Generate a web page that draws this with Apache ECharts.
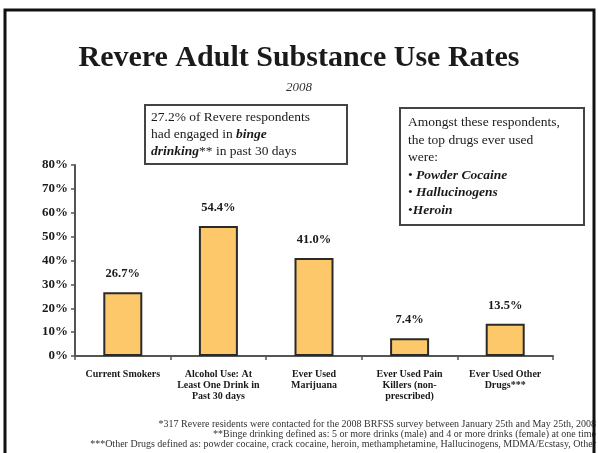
<!DOCTYPE html>
<html>
<head>
<meta charset="utf-8">
<script src="https://cdn.jsdelivr.net/npm/echarts@6/dist/echarts.min.js"></script>
<style>
html,body{margin:0;padding:0;background:#fff;}
#chart{width:598px;height:453px;}
</style>
</head>
<body>
<div id="chart"></div>
<script>
const categories = [
  "Current Smokers",
  "Alcohol Use: At\nLeast One Drink in\nPast 30 days",
  "Ever Used\nMarijuana",
  "Ever Used Pain\nKillers (non-\nprescribed)",
  "Ever Used Other\nDrugs***"
];
const values = [26.7, 54.4, 41.0, 7.4, 13.5];
const yTickValues = [0, 10, 20, 30, 40, 50, 60, 70, 80];
const titleText = "Revere Adult Substance Use Rates";
const subtitleText = "2008";
const footnotes = [
  "*317 Revere residents were contacted for the 2008 BRFSS survey between January 25th and May 25th, 2008",
  "**Binge drinking defined as: 5 or more drinks (male) and 4 or more drinks (female) at one time",
  "***Other Drugs defined as: powder cocaine, crack cocaine, heroin, methamphetamine, Hallucinogens, MDMA/Ecstasy, Other"
];

const SERIF = "'Liberation Serif', 'Times New Roman', serif";
const chart = echarts.init(document.getElementById('chart'), null, {renderer: 'canvas'});

const option = {
  backgroundColor: '#ffffff',
  animation: false,
  title: {
    text: titleText,
    subtext: subtitleText,
    left: 'center',
    top: 38,
    itemGap: 8,
    textStyle: {fontFamily: SERIF, fontWeight: 'bold', fontSize: 30, color: '#1a1a1a'},
    subtextStyle: {fontFamily: SERIF, fontStyle: 'italic', fontSize: 13, color: '#333'}
  },
  grid: {left: 75, right: 45, top: 165, bottom: 97, containLabel: false, outerBoundsMode: 'none'},
  xAxis: {
    type: 'category',
    data: categories,
    axisLine: {show: true, lineStyle: {color: '#555', width: 2}},
    axisTick: {show: true, length: 4, lineStyle: {color: '#555', width: 1.5}},
    axisLabel: {
      interval: 0, margin: 13,
      fontFamily: SERIF, fontWeight: 'bold', fontSize: 10, lineHeight: 11, color: '#1a1a1a'
    }
  },
  yAxis: {
    type: 'value',
    min: yTickValues[0],
    max: yTickValues[yTickValues.length - 1],
    interval: 10,
    splitLine: {show: false},
    axisLine: {show: true, lineStyle: {color: '#555', width: 2}},
    axisTick: {show: true, length: 4, lineStyle: {color: '#555', width: 1.5}},
    axisLabel: {
      margin: 7,
      formatter: v => v + '%',
      fontFamily: SERIF, fontWeight: 'bold', fontSize: 13, color: '#1a1a1a'
    }
  },
  series: [{
    type: 'bar',
    data: values,
    barWidth: 39,
    itemStyle: {color: '#FCC86A', borderColor: '#2a2a2a', borderWidth: 2},
    label: {
      show: true, position: 'top', distance: 12,
      formatter: p => p.value.toFixed(1) + '%',
      fontFamily: SERIF, fontWeight: 'bold', fontSize: 12.5, color: '#1a1a1a'
    }
  }],
  graphic: [
    {type: 'rect', shape: {x: 5, y: 10, width: 589, height: 470},
     style: {fill: null, stroke: '#111', lineWidth: 3}, silent: true, z: 100},
    {type: 'rect', shape: {x: 145, y: 105, width: 202, height: 59},
     style: {fill: '#fff', stroke: '#444', lineWidth: 2}, z: 10},
    {type: 'text', x: 151, y: 109, z: 11,
     style: {
       text: '27.2% of Revere respondents\nhad engaged in {bi|binge}\n{bi|drinking}** in past 30 days',
       fontFamily: SERIF, fontSize: 13.5, lineHeight: 17, fill: '#1a1a1a',
       rich: {bi: {fontFamily: SERIF, fontSize: 13.5, fontWeight: 'bold', fontStyle: 'italic', fill: '#1a1a1a', lineHeight: 17}}
     }},
    {type: 'rect', shape: {x: 400, y: 108, width: 184, height: 117},
     style: {fill: '#fff', stroke: '#444', lineWidth: 2}, z: 10},
    {type: 'text', x: 408, y: 114, z: 11,
     style: {
       text: 'Amongst these respondents,\nthe top drugs ever used\nwere:\n\u2022 {bi|Powder Cocaine}\n\u2022 {bi|Hallucinogens}\n\u2022{bi|Heroin}',
       fontFamily: SERIF, fontSize: 13.5, lineHeight: 17.5, fill: '#1a1a1a',
       rich: {bi: {fontFamily: SERIF, fontSize: 13.5, fontWeight: 'bold', fontStyle: 'italic', fill: '#1a1a1a', lineHeight: 17.5}}
     }},
    {type: 'text', x: 596, y: 424, z: 11,
     style: {text: footnotes[0], align: 'right', verticalAlign: 'middle', fontFamily: SERIF, fontSize: 10, fill: '#333'}},
    {type: 'text', x: 596, y: 434, z: 11,
     style: {text: footnotes[1], align: 'right', verticalAlign: 'middle', fontFamily: SERIF, fontSize: 10, fill: '#333'}},
    {type: 'text', x: 596, y: 444, z: 11,
     style: {text: footnotes[2], align: 'right', verticalAlign: 'middle', fontFamily: SERIF, fontSize: 10, fill: '#333'}}
  ]
};
chart.setOption(option);
</script>
</body>
</html>
